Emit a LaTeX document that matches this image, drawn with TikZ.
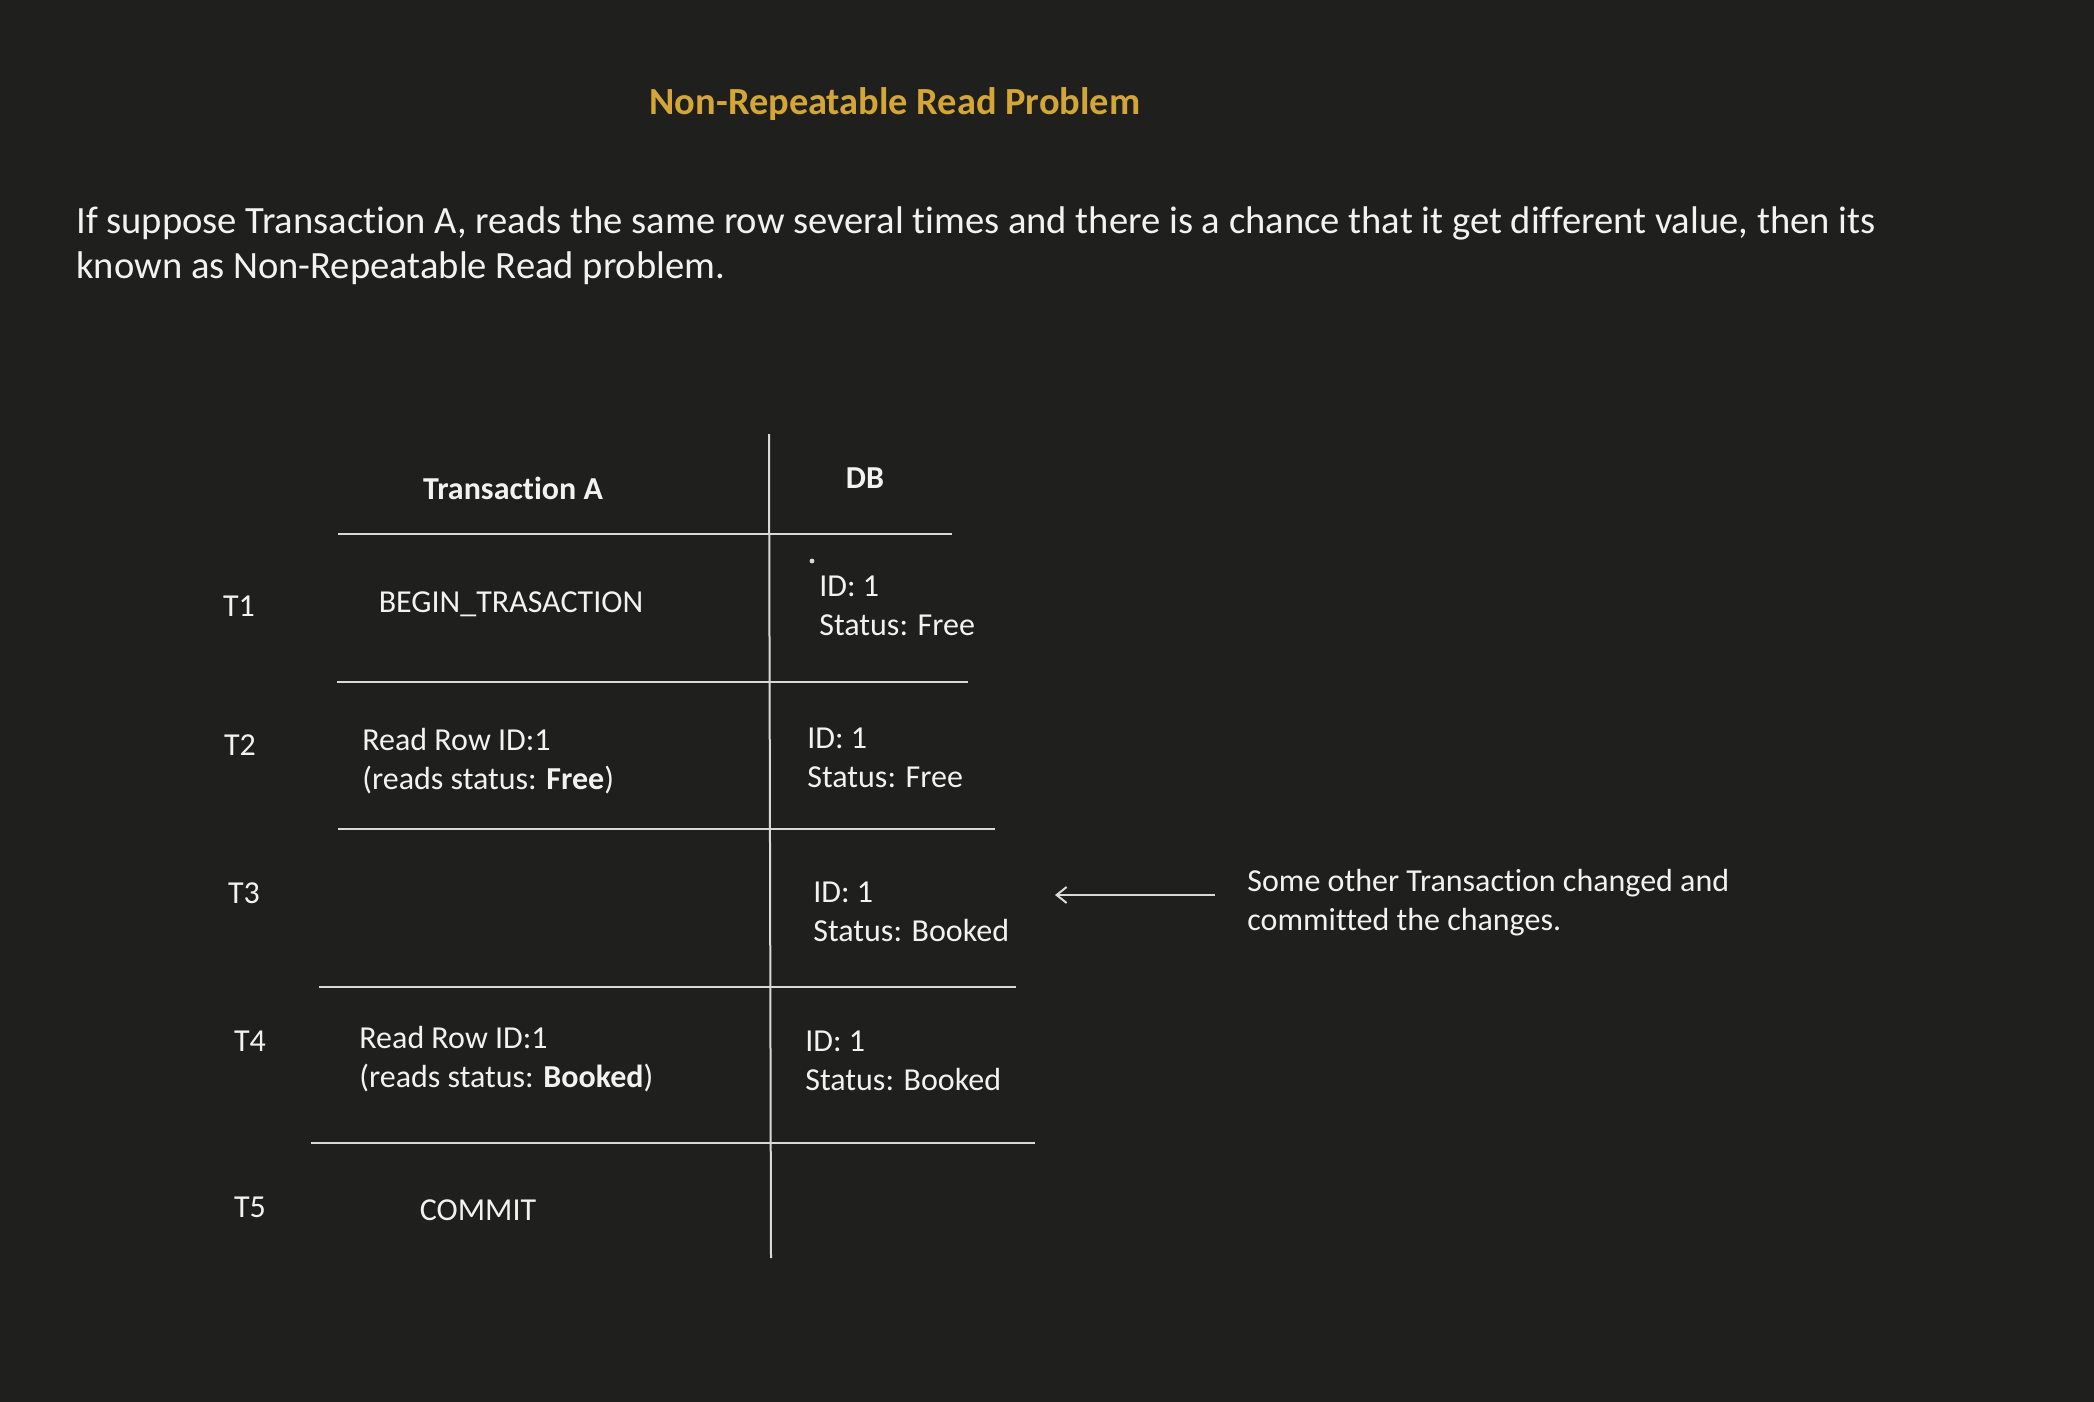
\documentclass[tikz,border=0pt]{standalone}
\usepackage{fontspec}
\setmainfont{Carlito}[Ligatures=NoCommon]
\usetikzlibrary{arrows.meta,positioning}
\definecolor{bgDark}{HTML}{1F1F1D}
\definecolor{txtLight}{HTML}{F2F2F2}
\definecolor{ruleGray}{HTML}{D9D9D9}
\definecolor{titleGold}{HTML}{D4A637}

\begin{document}
\begin{tikzpicture}[x=0.5pt, y=-0.5pt,
    every node/.style={inner sep=0pt, text=txtLight},
    cell/.style={font=\fontsize{16}{19.5}\selectfont, align=left, anchor=west},
    tlabel/.style={font=\fontsize{16}{19.5}\selectfont},
    rowline/.style={draw=ruleGray, line width=1pt}]
    \fill[bgDark] (0,0) rectangle (2094,1402);
    \useasboundingbox (0,0) rectangle (2094,1402);

    % heading and intro
    \node[font=\bfseries\fontsize{19.2}{23}\selectfont, text=titleGold] (title) at (895,104) {Non-Repeatable Read Problem};
    \node[font=\fontsize{19.3}{22.5}\selectfont, align=left, anchor=west] (intro) at (76,246)
        {If suppose Transaction A, reads the same row several times and there is a chance that it get different value, then its\\ known as Non-Repeatable Read problem.};

    % table rules
    \draw[rowline] (769,434) -- (771,1258);
    \foreach \y/\xa/\xb in {534/338/952, 682/337/968, 829/338/995, 987/319/1016, 1143/311/1035}
        \draw[rowline] (\xa,\y) -- (\xb,\y);

    % headers
    \node[tlabel, font=\bfseries\fontsize{16}{19.5}\selectfont] (hdrTxn) at (513,488) {Transaction A};
    \node[tlabel, font=\bfseries\fontsize{16}{19.5}\selectfont] (hdrDB) at (865,478) {DB};

    % time steps
    \node[tlabel] (t1) at (239,606) {T1};
    \node[tlabel] (t2) at (240,745) {T2};
    \node[tlabel] (t3) at (244,893) {T3};
    \node[tlabel] (t4) at (250,1041) {T4};
    \node[tlabel] (t5) at (250,1207) {T5};

    % transaction A column
    \node[tlabel] (txnBegin) at (511,604) {BEGIN\_TRASACTION};
    \node[cell] (txnReadA) at (362,761) {Read Row ID:1\\(reads status: \textbf{Free})};
    \node[cell] (txnReadB) at (359,1059) {Read Row ID:1\\(reads status: \textbf{Booked})};
    \node[tlabel] (txnCommit) at (478,1210) {COMMIT};

    % DB column
    \fill[ruleGray] (812,561) circle (1.2pt);
    \node[cell] (dbT1) at (819,606) {ID: 1\\Status: Free};
    \node[cell] (dbT2) at (807,758) {ID: 1\\Status: Free};
    \node[cell] (dbT3) at (813,912) {ID: 1\\Status: Booked};
    \node[cell] (dbT4) at (805,1061) {ID: 1\\Status: Booked};

    % side note
    \node[cell] (note) at (1247,903) {Some other Transaction changed and\\committed the changes.};
    \coordinate (dbT3in) at (1055,895);
    \draw[rowline, -{Straight Barb[length=5pt, width=8pt]}] ([xshift=-16pt, yshift=4pt]note.west) -- (dbT3in);
\end{tikzpicture}
\end{document}
